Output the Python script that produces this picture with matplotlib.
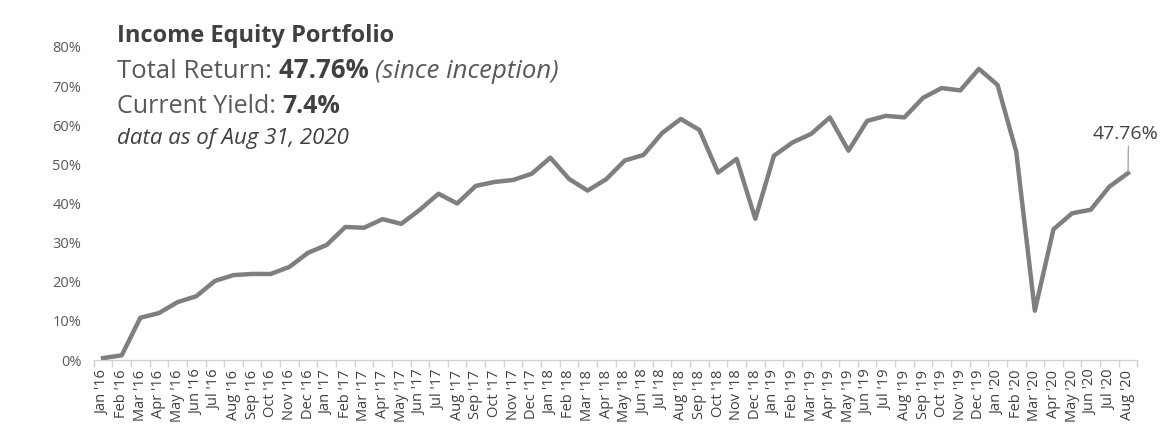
import matplotlib
matplotlib.use("Agg")
import matplotlib.pyplot as plt
import pandas as pd

months = list(pd.date_range("2016-01-01", "2020-08-01", freq="MS").strftime("%b '%y"))

# cumulative total return, %
returns = [0.5, 1.2, 10.8, 12.0, 14.8, 16.3, 20.2, 21.7, 22.0, 22.0, 23.8, 27.4,
           29.4, 34.0, 33.8, 36.0, 34.8, 38.4, 42.5, 40.0, 44.5, 45.5, 46.0, 47.6,
           51.7, 46.3, 43.3, 46.2, 51.0, 52.4, 58.0, 61.6, 58.8, 47.9, 51.4, 36.1,
           52.2, 55.6, 57.8, 62.0, 53.5, 61.1, 62.4, 62.0, 67.0, 69.5, 68.9, 74.4,
           70.3, 53.3, 12.6, 33.4, 37.5, 38.4, 44.3, 47.76]
yticks = [0, 10, 20, 30, 40, 50, 60, 70, 80]

plt.rcParams['font.family'] = ['Open Sans', 'DejaVu Sans']

fig = plt.figure(figsize=(11.72, 4.47), dpi=100)
ax = fig.add_axes([0.080, 0.1946, 0.8904, 0.7003])

x = list(range(len(months)))
ax.plot(x, returns, color="#7f7f7f", lw=3.2, solid_joinstyle="round", zorder=3)

ax.set_xlim(-0.5, len(months) - 0.5)
ax.set_ylim(0, 80)
ax.set_yticks(yticks)
ax.set_yticklabels([f"{v}%" for v in yticks])
ax.set_xticks(x)
ax.set_xticklabels(months, rotation=90)
ax.set_xticks([i - 0.5 for i in range(len(months) + 1)], minor=True)

for s in ["top", "right", "left"]:
    ax.spines[s].set_visible(False)
ax.spines["bottom"].set_color("#d0d0d0")
ax.spines["bottom"].set_linewidth(1.0)
ax.spines["bottom"].set_linestyle((0, (1, 1)))

ax.tick_params(axis="y", length=0, pad=9, labelsize=10.5, labelcolor="#595959")
ax.tick_params(axis="x", which="major", length=0, pad=7, labelsize=10.5, labelcolor="#404040")
ax.tick_params(axis="x", which="minor", length=5, color="#d0d0d0", width=1)

# end label with leader line
last = len(months) - 1
ax.annotate(f"{returns[-1]:.2f}%", xy=(last, returns[-1]), xytext=(last - 0.15, returns[-1] + 8.6),
            ha="center", va="baseline", fontsize=14, color="#404040",
            arrowprops=dict(arrowstyle="-", color="#a6a6a6", lw=1, shrinkA=0, shrinkB=1,
                            relpos=(0.55, 0)),
            annotation_clip=False)

# header block
x0 = 117 / 1172
fig.text(x0, 1 - 42 / 447, "Income Equity Portfolio", fontsize=17, fontweight="bold",
         color="#404040", va="baseline")

t1 = fig.text(x0, 1 - 78 / 447, "Total Return: ", fontsize=18.5, color="#595959", va="baseline")
t2 = ax.annotate("47.76% ", xy=(1, 0), xycoords=t1, fontsize=18.5, fontweight="bold",
                 color="#404040", va="bottom")
ax.annotate("(since inception)", xy=(1, 0), xycoords=t2, fontsize=18.5, style="italic",
            color="#595959", va="bottom")

t3 = fig.text(x0, 1 - 113 / 447, "Current Yield: ", fontsize=18, color="#595959", va="baseline")
ax.annotate("7.4%", xy=(1, 0), xycoords=t3, fontsize=18, fontweight="bold",
            color="#404040", va="bottom")

fig.text(x0, 1 - 144 / 447, "data as of Aug 31, 2020", fontsize=16, style="italic",
         color="#404040", va="baseline")

fig.savefig("out.png", dpi=100)
